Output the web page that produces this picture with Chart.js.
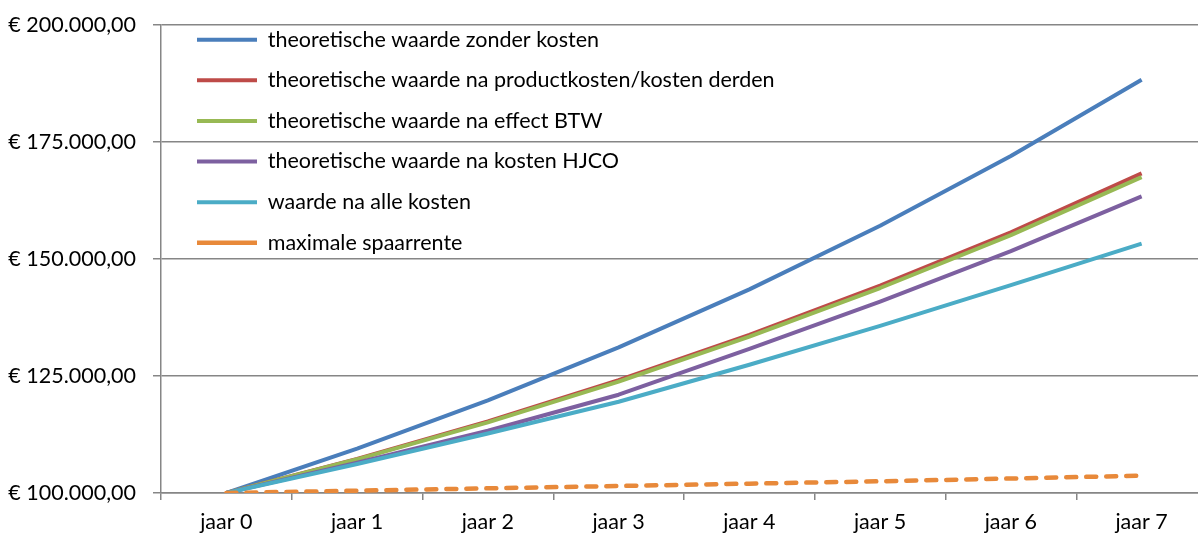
<!DOCTYPE html>
<html>
<head>
<meta charset="utf-8">
<script src="https://cdn.jsdelivr.net/npm/chart.js@4"></script>
<style>
  html, body { margin: 0; padding: 0; background: #fff; overflow: hidden; }
  #wrap { position: absolute; left: 0; top: 0; width: 1215px; height: 534px; }
</style>
</head>
<body>
<div id="wrap"><canvas id="c"></canvas></div>
<script>
const categories = ['jaar 0', 'jaar 1', 'jaar 2', 'jaar 3', 'jaar 4', 'jaar 5', 'jaar 6', 'jaar 7'];
const seriesNames = [
  'theoretische waarde zonder kosten',
  'theoretische waarde na productkosten/kosten derden',
  'theoretische waarde na effect BTW',
  'theoretische waarde na kosten HJCO',
  'waarde na alle kosten',
  'maximale spaarrente'
];
const zonderKosten    = [100000, 109500, 119800, 131100, 143500, 157100, 172000, 188300];
const naProductkosten = [100000, 107300, 115300, 124100, 133800, 144300, 155700, 168300];
const naEffectBTW     = [100000, 107200, 115100, 123800, 133400, 143800, 155100, 167500];
const naKostenHJCO    = [100000, 106500, 113300, 121000, 130800, 140900, 151700, 163400];
const naAlleKosten    = [100000, 106200, 112700, 119500, 127400, 135700, 144400, 153300];
const spaarrente      = [100000, 100500, 101000, 101500, 102000, 102500, 103100, 103700];
const yTicks = [100000, 125000, 150000, 175000, 200000];

const colors = ['#4A7EBB', '#BE4B48', '#98B954', '#7D60A0', '#4BACC6', '#E8893A'];
const seriesData = [zonderKosten, naProductkosten, naEffectBTW, naKostenHJCO, naAlleKosten, spaarrente];

function euro(v) {
  const int = Math.round(v).toString().replace(/\B(?=(\d{3})+(?!\d))/g, '.');
  return '€ ' + int + ',00';
}

const FONT = 'Lato';
const FS = 21.5;
const datasets = seriesData.map((d, i) => ({
  label: seriesNames[i],
  data: d,
  borderColor: colors[i],
  backgroundColor: colors[i],
  borderWidth: i === 5 ? 4.5 : 4,
  borderDash: i === 5 ? [10, 10] : [],
  borderCapStyle: i === 5 ? 'round' : 'butt',
  borderJoinStyle: 'round',
  pointRadius: 0,
  pointHoverRadius: 0,
  tension: 0,
  order: 6 - i
}));

const legendShift = {
  id: 'legendShift',
  afterLayout(chart) {
    const lg = chart.legend;
    if (lg) {
      lg.left = chart.chartArea.left + 36 - lg.options.labels.padding;
      lg.top = chart.chartArea.top + 4 - lg.options.labels.padding;
    }
  }
};

new Chart(document.getElementById('c'), {
  type: 'line',
  data: { labels: categories, datasets },
  plugins: [legendShift],
  options: {
    responsive: true,
    maintainAspectRatio: false,
    animation: false,
    layout: { padding: { top: 25, right: 8, left: 0, bottom: 0 } },
    plugins: {
      title: { display: false },
      tooltip: { enabled: false },
      legend: {
        position: 'chartArea',
        align: 'start',
        labels: {
          usePointStyle: true,
          pointStyle: 'line',
          pointStyleWidth: 60,
          boxHeight: 17,
          padding: 19.1,
          color: '#000',
          font: { family: FONT, size: FS },
          sort: (a, b) => a.datasetIndex - b.datasetIndex
        }
      }
    },
    scales: {
      x: {
        type: 'category',
        offset: true,
        grid: {
          offset: true,
          drawOnChartArea: false,
          drawTicks: true,
          tickLength: 7,
          color: '#868686',
          lineWidth: 1.5
        },
        border: { display: true, color: '#868686', width: 1.5 },
        ticks: {
          color: '#000',
          font: { family: FONT, size: FS },
          padding: 9,
          maxRotation: 0
        },
        afterFit(scale) { scale.height = 41; scale.paddingLeft = 0; scale.paddingRight = 0; }
      },
      y: {
        min: 100000,
        max: 200000,
        afterBuildTicks(scale) { scale.ticks = yTicks.map(v => ({ value: v })); },
        grid: {
          color: '#868686',
          lineWidth: 1.5,
          drawTicks: true,
          tickLength: 8
        },
        border: { display: true, color: '#868686', width: 1.5 },
        ticks: {
          color: '#000',
          font: { family: FONT, size: FS },
          padding: 17,
          callback: (v) => euro(v)
        },
        afterFit(scale) { scale.width = 161; scale.paddingTop = 0; scale.paddingBottom = 0; }
      }
    }
  }
});
</script>
</body>
</html>
